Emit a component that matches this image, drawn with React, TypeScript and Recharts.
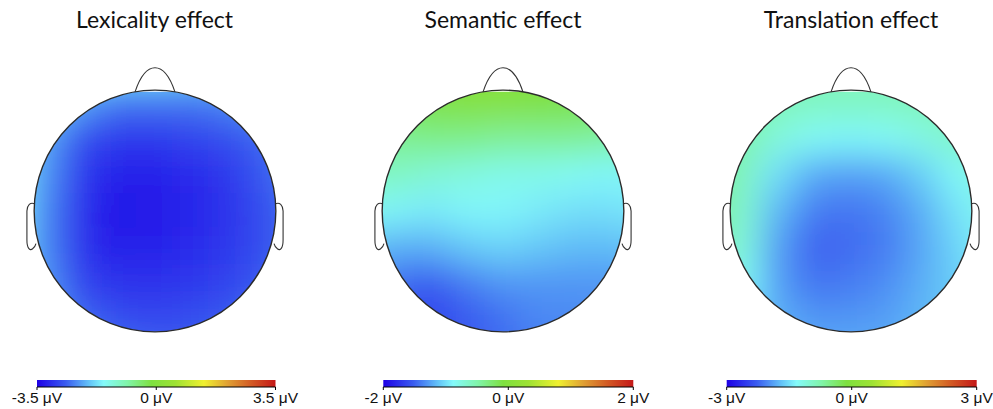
import React from 'react';
import { ScatterChart, Scatter, XAxis, YAxis, ReferenceArea, ReferenceLine } from 'recharts';

// electrode-grid positions (head units, nose up) and the amplitudes (µV)
const gridX = [-1.2, -0.9, -0.6, -0.3, 0, 0.3, 0.6, 0.9, 1.2];
const gridY = [1.2, 0.9, 0.6, 0.3, 0, -0.3, -0.6, -0.9, -1.2];

const lexicality = [
  [-1.5, -1.5, -1.6, -1.6, -1.6, -1.7, -1.8, -1.9, -2.0],
  [-1.6, -1.8, -2.2, -2.5, -2.5, -2.5, -2.4, -2.2, -2.1],
  [-1.6, -2.2, -2.8, -3.0, -3.0, -2.9, -2.8, -2.6, -2.3],
  [-1.6, -2.3, -3.0, -3.2, -3.2, -3.1, -3.0, -2.7, -2.4],
  [-1.6, -2.4, -3.05, -3.35, -3.3, -3.2, -3.05, -2.8, -2.5],
  [-1.7, -2.4, -3.05, -3.25, -3.2, -3.1, -3.0, -2.8, -2.5],
  [-1.8, -2.3, -2.9, -3.05, -3.05, -3.0, -2.9, -2.7, -2.4],
  [-1.9, -2.2, -2.6, -2.8, -2.85, -2.8, -2.7, -2.5, -2.3],
  [-1.9, -2.1, -2.3, -2.5, -2.6, -2.6, -2.5, -2.3, -2.2],
];

const semantic = [
  [-0.2, -0.1, 0.0, 0.05, 0.05, 0.0, -0.05, -0.1, -0.2],
  [-0.3, -0.2, -0.1, 0.0, 0.0, -0.05, -0.1, -0.2, -0.3],
  [-0.5, -0.4, -0.35, -0.35, -0.4, -0.4, -0.4, -0.45, -0.5],
  [-0.6, -0.6, -0.7, -0.75, -0.8, -0.8, -0.85, -0.9, -0.85],
  [-0.8, -0.9, -0.95, -0.9, -0.9, -0.95, -1.0, -1.0, -0.95],
  [-1.1, -1.2, -1.2, -1.1, -1.05, -1.1, -1.15, -1.15, -1.1],
  [-1.3, -1.45, -1.55, -1.4, -1.3, -1.3, -1.3, -1.3, -1.25],
  [-1.4, -1.55, -1.65, -1.55, -1.45, -1.35, -1.35, -1.3, -1.25],
  [-1.4, -1.5, -1.55, -1.5, -1.45, -1.4, -1.35, -1.3, -1.3],
];

const translation = [
  [-0.6, -0.7, -0.8, -0.85, -0.85, -0.85, -0.8, -0.75, -0.7],
  [-0.6, -0.7, -0.85, -0.9, -0.9, -0.9, -0.85, -0.8, -0.75],
  [-0.55, -0.75, -1.1, -1.3, -1.35, -1.3, -1.15, -0.95, -0.85],
  [-0.5, -0.9, -1.5, -1.85, -1.9, -1.85, -1.6, -1.3, -1.1],
  [-0.5, -1.0, -1.75, -2.1, -2.15, -2.05, -1.8, -1.45, -1.2],
  [-0.6, -1.1, -1.9, -2.25, -2.2, -2.1, -1.85, -1.55, -1.3],
  [-0.8, -1.3, -1.9, -2.15, -2.1, -2.0, -1.8, -1.6, -1.45],
  [-1.1, -1.5, -1.8, -1.95, -1.95, -1.9, -1.75, -1.65, -1.55],
  [-1.3, -1.6, -1.75, -1.8, -1.8, -1.8, -1.75, -1.7, -1.6],
];

const titles = ['Lexicality effect', 'Semantic effect', 'Translation effect'];
const scaleMax = [3.5, 2, 3];
const barTicks = [
  [-3.5, 0, 3.5],
  [-2, 0, 2],
  [-3, 0, 3],
];

const jetStops: [number, string][] = [
  [0, '#1e00e6'], [0.12, '#3a5cf0'], [0.22, '#64c4f8'], [0.28, '#84fafa'],
  [0.38, '#80f4a8'], [0.48, '#7ee040'], [0.58, '#9ee234'], [0.7, '#f0f030'],
  [0.8, '#e0a034'], [0.9, '#d25824'], [1, '#c41818'],
];

const W = 302;
const H = 409;
const AXIS_H = 22;
const M = { top: 66, right: 6, bottom: 0, left: 6 };
const UNIT = (W - M.left - M.right) / 2.4;
const Y_MIN = 1.2 - (H - AXIS_H - M.top) / UNIT;
const CX = M.left + 1.2 * UNIT;
const CY = M.top + 1.2 * UNIT;
const CELL = 0.3 * UNIT + 1.5;

const chartLeft = [3.5, 352, 700];
const barPad = [
  { left: 27, right: 24.5 },
  { left: 25.3, right: 14.7 },
  { left: 20.7, right: 19.3 },
];
const centers = [154.5, 503, 851];

const hex = (h: string) => [1, 3, 5].map((i) => parseInt(h.slice(i, i + 2), 16));

function jet(t: number) {
  const c = Math.max(0, Math.min(1, t));
  for (let i = 1; i < jetStops.length; i++) {
    if (c <= jetStops[i][0]) {
      const [t0, h0] = jetStops[i - 1];
      const [t1, h1] = jetStops[i];
      const f = (c - t0) / (t1 - t0);
      const a = hex(h0);
      const b = hex(h1);
      return `rgb(${a.map((v, k) => Math.round(v + (b[k] - v) * f)).join(',')})`;
    }
  }
  return jetStops[jetStops.length - 1][1];
}

const toPoints = (rows: number[][]) =>
  rows.flatMap((row, r) => row.map((v, c) => ({ x: gridX[c], y: gridY[r], v })));

const HeadOutline = (props: any) => {
  const { cx, cy } = props;
  const R = UNIT;
  const p = (x: number, y: number) => `${cx + x * R},${cy + y * R}`;
  const nose = `M${p(-0.165, -0.986)} C${p(-0.13, -1.09)} ${p(-0.08, -1.185)} ${p(0, -1.185)} C${p(0.08, -1.185)} ${p(0.13, -1.09)} ${p(0.165, -0.986)}`;
  const ear = (s: number) =>
    `M${p(s * 0.998, -0.06)} C${p(s * 1.03, -0.075)} ${p(s * 1.058, -0.05)} ${p(s * 1.06, 0.0)} L${p(s * 1.06, 0.24)} C${p(s * 1.06, 0.31)} ${p(s * 1.035, 0.33)} ${p(s * 1.015, 0.315)} C${p(s * 1.0, 0.305)} ${p(s * 0.99, 0.29)} ${p(s * 0.985, 0.27)}`;
  return (
    <g>
      <path d={nose} fill="#fff" stroke="#333" strokeWidth={1.1} />
      <path d={ear(-1)} fill="#fff" stroke="#333" strokeWidth={1.1} />
      <path d={ear(1)} fill="#fff" stroke="#333" strokeWidth={1.1} />
      <circle cx={cx} cy={cy} r={R} fill="none" stroke="#2b2b2b" strokeWidth={1.4} />
    </g>
  );
};

const Nothing = () => <g />;

const TopoHead = ({ values, max, idx }: { values: number[][]; max: number; idx: number }) => {
  const data = toPoints(values);
  const barData = barTicks[idx].map((x) => ({ x, y: Y_MIN }));
  const Cell = (p: any) => (
    <rect
      x={p.cx - CELL / 2}
      y={p.cy - CELL / 2}
      width={CELL}
      height={CELL}
      fill={jet((p.payload.v / max + 1) / 2)}
    />
  );
  return (
    <div style={{ position: 'absolute', left: chartLeft[idx], top: 0 }}>
      <ScatterChart width={W} height={H} margin={M}>
        <XAxis xAxisId="head" type="number" dataKey="x" domain={[-1.2, 1.2]} hide />
        <XAxis
          xAxisId="bar"
          type="number"
          dataKey="x"
          domain={[-max, max]}
          ticks={barTicks[idx]}
          padding={barPad[idx]}
          height={AXIS_H}
          tickSize={3}
          tickMargin={2}
          interval={0}
          axisLine={false}
          tickLine={{ stroke: '#000' }}
          tick={{ fill: '#111', fontSize: 15.5, fontFamily: '"Liberation Sans", Arial, sans-serif' }}
          tickFormatter={(v: number) => `${v} μV`}
        />
        <YAxis type="number" dataKey="y" domain={[Y_MIN, 1.2]} hide />
        <ReferenceArea
          xAxisId="bar"
          x1={-max}
          x2={max}
          y1={Y_MIN}
          y2={Y_MIN + 7 / UNIT}
          fill="url(#jetGrad)"
          fillOpacity={1}
          stroke="none"
          ifOverflow="visible"
        />
        <ReferenceLine
          xAxisId="bar"
          segment={[
            { x: -max, y: Y_MIN },
            { x: max, y: Y_MIN },
          ]}
          stroke="#000"
          strokeWidth={1}
          ifOverflow="visible"
        />
        <Scatter xAxisId="bar" data={barData} shape={Nothing} isAnimationActive={false} />
        <Scatter
          xAxisId="head"
          data={data}
          className="field-layer"
          shape={Cell}
          isAnimationActive={false}
        />
        <Scatter
          xAxisId="head"
          data={[{ x: 0, y: 0 }]}
          shape={HeadOutline}
          isAnimationActive={false}
        />
      </ScatterChart>
    </div>
  );
};

export default function App() {
  const maps = [lexicality, semantic, translation];
  return (
    <div
      style={{
        position: 'absolute',
        left: 0,
        top: 0,
        width: 993,
        height: 409,
        overflow: 'hidden',
        background: '#fff',
      }}
    >
      <style>{`.field-layer{filter:url(#fieldBlur);clip-path:url(#headClip);}`}</style>
      <svg width={993} height={409} style={{ position: 'absolute', left: 0, top: 0 }}>
        <defs>
          <linearGradient id="jetGrad" x1="0" y1="0" x2="1" y2="0">
            {jetStops.map(([o, c]) => (
              <stop key={o} offset={o} stopColor={c} />
            ))}
          </linearGradient>
          <filter id="fieldBlur" x="-20%" y="-20%" width="140%" height="140%">
            <feGaussianBlur stdDeviation={17} />
          </filter>
          <clipPath id="headClip" clipPathUnits="userSpaceOnUse">
            <circle cx={CX} cy={CY} r={UNIT} />
          </clipPath>
        </defs>
        {titles.map((t, i) => (
          <text
            key={t}
            x={centers[i]}
            y={28}
            textAnchor="middle"
            fontSize={23}
            fontFamily="Lato, sans-serif"
            fill="#111"
          >
            {t}
          </text>
        ))}
      </svg>
      {maps.map((m, i) => (
        <TopoHead key={i} values={m} max={scaleMax[i]} idx={i} />
      ))}
    </div>
  );
}
